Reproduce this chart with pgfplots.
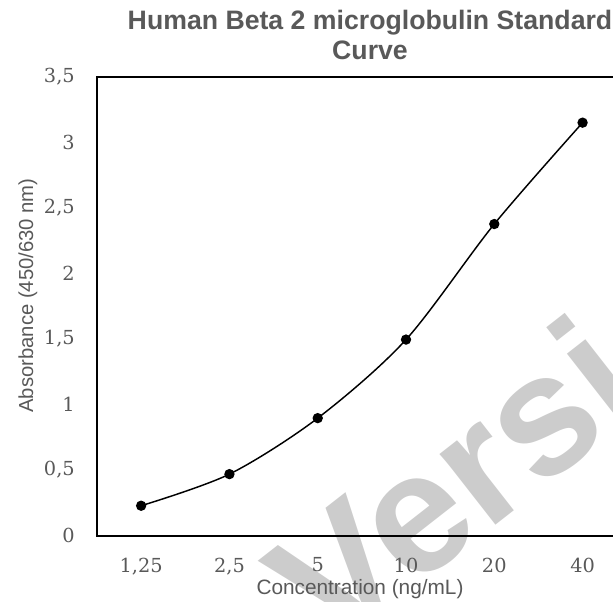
\documentclass[border=0pt]{standalone}
\usepackage{fontspec}
\setsansfont{Liberation Sans}
\newfontfamily\tickfont{DejaVu Serif}
\usepackage{pgfplots}
\pgfplotsset{compat=1.18}
\definecolor{txt}{HTML}{595959}
\definecolor{wm}{RGB}{204,204,204}
\begin{document}
\begin{tikzpicture}
\useasboundingbox (0,0) rectangle (459.75pt,450.75pt);
\clip (0,0) rectangle (459.75pt,450.75pt);
\node[rotate=38, text=wm, font=\sffamily\bfseries\fontsize{128}{135}\selectfont, inner sep=0pt] at (401pt,138pt) {Version};
\begin{axis}[
  at={(72.75pt,49.125pt)}, anchor=south west,
  scale only axis, width=397.3pt, height=344.25pt,
  xmin=-0.5, xmax=5.5, ymin=0, ymax=3.5,
  xtick={0,1,2,3,4,5},
  xticklabels={{1,25},{2,5},5,10,20,40},
  ytick={0,0.5,1,1.5,2,2.5,3,3.5},
  major tick length=0pt,
  axis line style={black, line width=1.5pt},
  /pgf/number format/.cd, use comma, fixed, assume math mode=true,
  /pgfplots/.cd,
  ticklabel style={font=\tickfont\fontsize{14.5}{17}\selectfont, text=txt, inner sep=0pt},
  xticklabel style={anchor=north, yshift=-16.5pt},
  yticklabel style={anchor=east, xshift=-16.5pt},
  clip=false,
]
\addplot[black, line width=1.1pt, smooth, mark=*, mark size=3.3pt, mark options={fill=black}]
coordinates {(0,0.227) (1,0.468) (2,0.895) (3,1.494) (4,2.375) (5,3.148)};
\end{axis}
\node[anchor=base, text=txt, font=\sffamily\bfseries\fontsize{20}{24}\selectfont] at (277.5pt,428.8pt) {Human Beta 2 microglobulin Standard};
\node[anchor=base, text=txt, font=\sffamily\bfseries\fontsize{20}{24}\selectfont] at (277.5pt,405.75pt) {Curve};
\node[anchor=base, rotate=90, text=txt, font=\sffamily\fontsize{15.2}{18}\selectfont] at (24.75pt,229.1pt) {Absorbance (450/630 nm)};
\node[anchor=base, text=txt, font=\sffamily\fontsize{15.6}{18}\selectfont] at (270pt,5.25pt) {Concentration (ng/mL)};
\end{tikzpicture}
\end{document}
